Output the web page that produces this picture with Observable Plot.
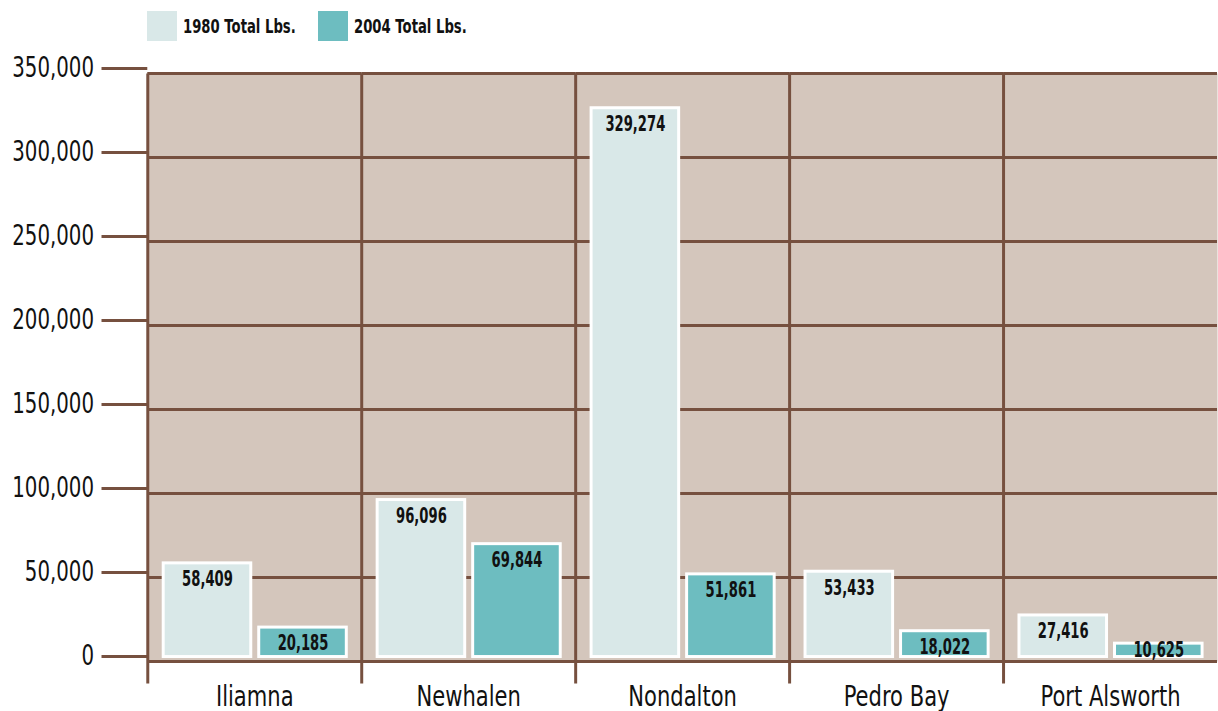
<!DOCTYPE html>
<html>
<head>
<meta charset="utf-8">
<script src="https://cdn.jsdelivr.net/npm/d3@7"></script>
<script src="https://cdn.jsdelivr.net/npm/@observablehq/plot@0.6"></script>
<style>
  html, body { margin: 0; padding: 0; background: #fff; overflow: hidden; }
  #wrap { width: 1218px; height: 711px; overflow: hidden; position: relative; }
  .legend { height: 56px; position: relative; font-family: "DejaVu Sans", sans-serif; font-weight: bold; font-size: 20px; color: #111; }
  .legend .sw { position: absolute; top: 11px; width: 30px; height: 30px; }
  .legend .lab { position: absolute; top: 26px; transform: translateY(-50%) scaleX(0.66); transform-origin: left center; white-space: nowrap; line-height: 1; }
  svg { display: block; }
</style>
</head>
<body>
<div id="wrap">
  <div class="legend" id="legend"></div>
  <div id="chart"></div>
</div>
<script>
const categories = ["Iliamna", "Newhalen", "Nondalton", "Pedro Bay", "Port Alsworth"];
const seriesNames = ["1980 Total Lbs.", "2004 Total Lbs."];
const seriesKeys = ["1980", "2004"];
const values1980 = [58409, 96096, 329274, 53433, 27416];
const values2004 = [20185, 69844, 51861, 18022, 10625];
const yTicks = [0, 50000, 100000, 150000, 200000, 250000, 300000, 350000];
const colors = ["#d9e8e8", "#6dbdc0"];

const brown = "#76503f";
const data = [];
categories.forEach((c, i) => {
  data.push({category: c, series: seriesKeys[0], value: values1980[i]});
  data.push({category: c, series: seriesKeys[1], value: values2004[i]});
});

// legend
const legend = document.getElementById("legend");
const legendX = [147, 318];
seriesNames.forEach((name, i) => {
  const sw = document.createElement("div");
  sw.className = "sw";
  sw.style.left = legendX[i] + "px";
  sw.style.background = colors[i];
  const t = document.createElement("span");
  t.className = "lab";
  t.style.left = (legendX[i] + 36) + "px";
  t.textContent = name;
  legend.appendChild(sw);
  legend.appendChild(t);
});

const fmt = d3.format(",");
const font = '"DejaVu Sans", sans-serif';
const tallEnough = d => d.value >= 15000;

const chart = Plot.plot({
  width: 1224,
  height: 655,
  marginTop: 17,
  marginBottom: 47,
  marginLeft: 146,
  marginRight: 0,
  style: {fontFamily: font, color: "#111", background: "transparent", overflow: "visible"},
  fx: {domain: categories, padding: 0, label: null},
  x: {domain: seriesKeys, paddingInner: 0.085, paddingOuter: 0.16, axis: null},
  y: {domain: [0, 350000], axis: null},
  color: {domain: seriesKeys, range: colors},
  marks: [
    Plot.frame({fill: "#d4c6bc", stroke: null}),
    Plot.gridY(yTicks, {stroke: brown, strokeOpacity: 1, strokeWidth: 3}),
    Plot.frame({anchor: "left", stroke: brown, strokeWidth: 3, insetBottom: -22, strokeLinecap: "butt"}),
    Plot.axisY(yTicks, {tickSize: 46, tickPadding: 8, stroke: brown, strokeWidth: 3, tickFormat: fmt, fontSize: 28, dy: -5, label: null, fill: "#111"}),
    Plot.barY(data, {fx: "category", x: "series", y: "value", fill: "series", stroke: "#fff", strokeWidth: 3, insetBottom: 4.5}),
    Plot.text(data.filter(tallEnough), {fx: "category", x: "series", y: "value", text: d => fmt(d.value), lineAnchor: "top", dy: 8, fontSize: 21, fontWeight: "bold", fill: "#111"}),
    Plot.text(data.filter(d => !tallEnough(d)), {fx: "category", x: "series", frameAnchor: "bottom", text: d => fmt(d.value), lineAnchor: "bottom", dy: -5, fontSize: 21, fontWeight: "bold", fill: "#111"}),
    Plot.axisFx({anchor: "bottom", tickSize: 0, tickPadding: 24, fontSize: 29, label: null, fill: "#111"})
  ]
});
document.getElementById("chart").appendChild(chart);

// condense text horizontally (no condensed font installed)
const squeeze = {"y-axis tick label": 0.71, "fx-axis tick label": 0.73, "text": 0.63};
chart.querySelectorAll("text").forEach(t => {
  const g = t.closest("g[aria-label]");
  const s = g ? squeeze[g.getAttribute("aria-label")] : undefined;
  if (!s) return;
  const X = parseFloat(t.getAttribute("x")) || 0;
  const tr = t.getAttribute("transform") || "";
  t.setAttribute("transform", `${tr} translate(${X},0) scale(${s},1) translate(${-X},0)`);
});
</script>
</body>
</html>
